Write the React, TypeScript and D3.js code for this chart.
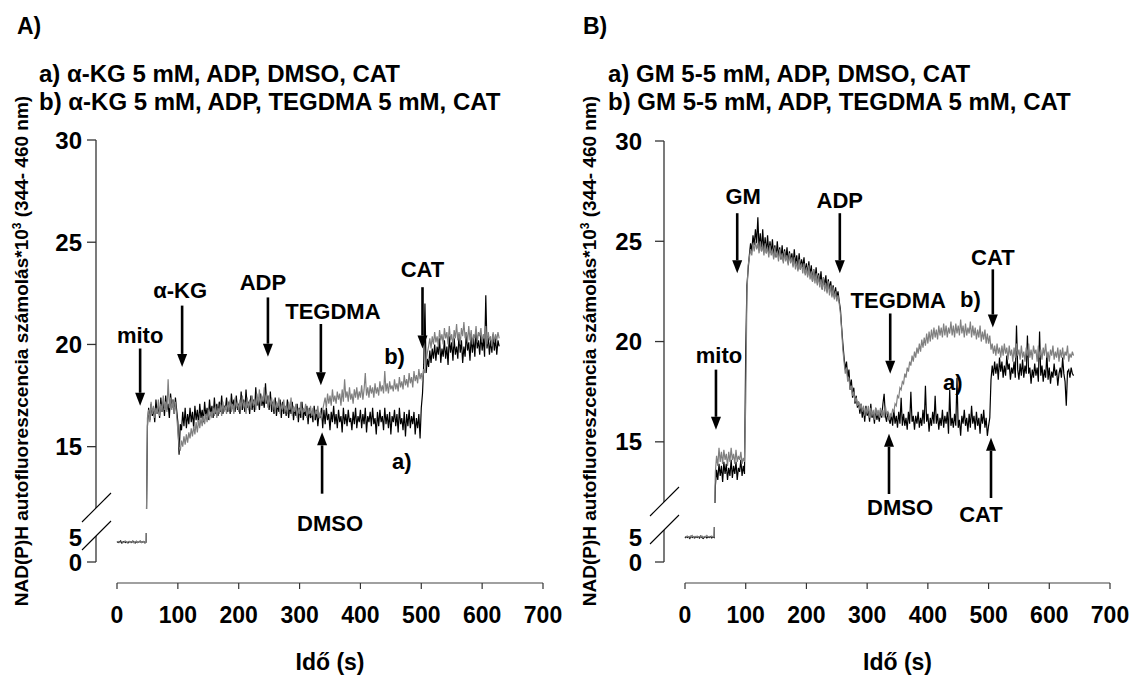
import React from 'react';
import * as d3 from 'd3';

// samples every 2 s
const STEP = 2;

// A) alpha-KG panel, trace a) (black)
const akgDmso = [
  4.1, 3.9, 4.0, 4.2, 3.8, 4.0, 4.1, 3.9, 4.0, 3.8,
  4.1, 4.0, 3.9, 4.2, 4.0, 3.8, 4.1, 3.9, 4.0, 4.2,
  3.9, 4.0, 4.1, 3.8, 4.0,
  16.0, 16.9, 16.3, 17.1, 16.5,
  16.9, 16.2, 17.3, 16.6, 17.0, 16.4, 17.4, 16.7, 17.2, 16.5,
  17.5, 16.8, 17.1, 16.4, 17.6, 16.9, 17.3, 16.6, 17.4, 16.8,
  16.2, 14.6, 16.1, 15.8, 16.7, 16.0, 16.9, 15.9, 16.6, 16.1,
  16.9, 16.2, 16.7, 15.9, 17.0, 16.3, 16.8, 16.1, 17.1, 16.4,
  16.8, 16.2, 17.2, 16.5, 16.9, 16.3, 17.3, 16.6, 17.0, 16.4,
  17.4, 16.6, 17.1, 16.5, 17.2, 16.7, 17.5, 16.6, 17.0, 16.8,
  17.4, 16.7, 17.2, 16.6, 17.6, 16.9, 17.3, 16.7, 17.5, 16.8,
  17.1, 16.6, 17.7, 16.8, 17.3, 16.7, 17.8, 16.9, 17.2, 16.6,
  17.5, 16.8, 17.3, 16.7, 17.9, 17.0, 17.4, 16.8, 17.6, 17.0,
  17.3, 16.9, 18.1, 17.1, 17.5, 16.8, 17.7, 16.7, 17.2, 16.6,
  17.4, 16.5, 17.1, 16.7, 17.3, 16.4, 17.2, 16.6, 17.0, 16.5,
  17.3, 16.4, 17.0, 16.6, 17.2, 16.3, 16.9, 16.5, 17.1, 16.2,
  16.9, 16.4, 17.2, 16.3, 16.8, 16.5, 17.0, 16.1, 16.9, 16.4,
  16.7, 16.2, 17.0, 16.3, 16.8, 16.0, 16.6, 16.4, 16.9, 15.9,
  16.8, 16.1, 16.9, 16.3, 16.6, 15.8, 16.7, 16.2, 17.0, 16.1,
  16.6, 15.9, 16.8, 16.2, 16.5, 15.7, 16.9, 16.1, 16.6, 16.0,
  16.8, 16.2, 16.4, 15.8, 16.7, 16.1, 16.9, 15.9, 16.5, 16.2,
  16.8, 15.9, 16.6, 16.1, 16.9, 15.7, 16.5, 16.2, 16.7, 16.0,
  16.9, 16.1, 16.4, 15.6, 16.7, 16.0, 16.8, 16.2, 16.5, 15.8,
  16.9, 16.1, 16.6, 15.9, 16.7, 15.6, 16.5, 16.2, 16.8, 16.0,
  16.6, 15.7, 16.9, 16.1, 16.4, 15.8, 16.7, 15.5, 16.6, 16.0,
  16.8, 15.9, 16.5, 16.1, 16.7, 15.6, 16.4, 15.9, 16.6, 15.4,
  16.9, 17.6, 19.0, 22.0, 18.6, 19.3, 18.9, 19.7, 19.1, 19.8,
  19.3, 20.0, 19.2, 19.9, 19.5, 20.3, 19.1, 19.8, 19.4, 20.2,
  19.3, 19.9, 19.0, 20.4, 19.6, 20.1, 19.2, 20.3, 19.5, 19.9,
  19.3, 20.5, 19.6, 20.2, 19.1, 19.9, 19.4, 20.6, 19.7, 20.1,
  19.2, 20.4, 19.6, 20.3, 19.4, 20.7, 19.8, 20.2, 19.5, 20.5,
  19.7, 20.3, 19.4, 22.4, 19.8, 20.4, 19.5, 20.2, 19.6, 20.5,
  19.7, 20.3, 19.5, 20.2, 19.9,
];
// A) trace b) (grey)
const akgTegdma = [
  4.0, 4.1, 3.9, 4.0, 4.1, 3.9, 4.0, 4.2, 3.9, 4.0,
  4.1, 3.9, 4.0, 4.1, 3.8, 4.0, 4.2, 3.9, 4.0, 4.1,
  3.9, 4.0, 4.1, 3.9, 4.0,
  16.4, 16.8, 16.2, 17.2, 16.6,
  17.0, 16.4, 16.9, 16.6, 17.3, 16.5, 17.1, 16.7, 17.5, 16.8,
  17.2, 16.7, 18.3, 16.9, 17.4, 16.8, 17.3, 16.6, 17.2, 16.5,
  15.8, 15.0, 14.8, 15.3, 15.0, 15.5, 15.1, 15.6, 15.2, 15.7,
  15.4, 15.9, 15.5, 16.0, 15.6, 16.2, 15.7, 16.3, 15.9, 16.4,
  16.0, 16.5, 16.1, 16.6, 16.2, 16.8, 16.3, 16.7, 16.4, 16.9,
  16.5, 17.0, 16.4, 16.9, 16.6, 17.1, 16.5, 17.2, 16.7, 17.0,
  16.6, 17.2, 16.8, 17.3, 16.7, 17.1, 16.6, 17.4, 16.9, 17.2,
  16.7, 17.3, 16.8, 17.5, 16.9, 17.2, 16.6, 17.4, 16.8, 17.3,
  16.9, 17.5, 17.0, 17.3, 16.8, 17.6, 17.1, 17.8, 17.0, 17.5,
  17.2, 17.9, 17.1, 17.6, 16.9, 17.5, 17.0, 17.4, 16.8, 17.3,
  16.7, 17.2, 16.9, 17.4, 16.6, 17.1, 16.8, 17.3, 16.7, 17.0,
  16.6, 17.2, 16.8, 17.4, 16.5, 17.0, 16.7, 17.1, 16.4, 16.9,
  16.6, 17.2, 16.5, 16.9, 16.7, 17.1, 16.4, 16.8, 16.6, 17.0,
  16.5, 16.9, 16.3, 16.8, 16.6, 17.0, 16.4, 16.7, 16.3, 16.8,
  17.1, 17.4, 16.9, 17.6, 17.1, 17.5, 17.0, 17.8, 17.2, 17.5,
  17.1, 17.7, 17.3, 17.6, 17.0, 17.8, 17.2, 18.3, 17.4, 17.7,
  17.2, 17.9, 17.3, 17.6, 17.1, 17.8, 17.4, 17.9, 17.3, 17.7,
  17.4, 18.0, 17.3, 17.8, 18.6, 17.5, 17.9, 17.4, 18.0, 17.6,
  17.9, 17.4, 18.1, 17.6, 17.9, 17.5, 18.2, 17.7, 18.0, 17.6,
  18.7, 17.7, 18.1, 17.6, 18.2, 17.8, 18.0, 17.7, 18.3, 17.8,
  18.1, 17.7, 18.4, 17.9, 18.2, 17.8, 18.5, 18.0, 18.3, 17.9,
  18.6, 18.1, 18.4, 17.9, 18.7, 18.2, 18.5, 18.1, 18.8, 18.3,
  18.6, 18.2, 18.8, 18.6, 19.2, 19.6, 19.9, 20.3, 19.8, 20.4,
  20.0, 20.6, 20.1, 20.4, 19.9, 20.7, 20.2, 20.5, 20.0, 20.8,
  20.3, 20.6, 20.0, 20.9, 20.2, 20.5, 19.9, 20.7, 20.3, 21.0,
  20.2, 20.6, 20.0, 20.8, 20.4, 21.1, 20.3, 20.6, 20.1, 20.9,
  20.2, 20.7, 20.0, 20.5, 20.3, 20.9, 20.1, 20.6, 20.4, 20.8,
  20.1, 20.5, 20.3, 20.9, 20.0, 20.6, 20.2, 20.4, 19.9, 20.6,
  20.1, 20.5, 20.2, 20.6, 20.3,
];

// B) glutamate-malate panel, trace a) (black)
const gmDmso = [
  4.8, 5.1, 4.9, 5.0, 4.7, 5.2, 4.9, 5.0, 4.8, 5.1,
  4.9, 5.0, 4.8, 5.2, 4.9, 4.7, 5.0, 5.1, 4.8, 5.0,
  4.9, 5.1, 4.8, 5.0, 4.9,
  12.8, 13.6, 13.1, 13.9, 13.3,
  13.8, 13.0, 14.0, 13.4, 13.9, 13.1, 13.7, 13.3, 14.1, 13.2,
  13.8, 13.4, 14.0, 13.1, 13.7, 13.5, 14.1, 13.3, 13.8, 13.4,
  19.5, 22.8, 23.6, 24.3, 24.9, 24.5, 25.3, 24.8, 25.6, 24.9,
  26.2, 24.6, 25.4, 24.5, 25.6, 24.5, 25.2, 24.4, 25.3, 24.4,
  25.0, 24.4, 25.1, 24.2, 24.8, 24.2, 25.0, 24.2, 24.7, 24.1,
  24.8, 24.0, 24.6, 24.1, 24.7, 23.9, 24.5, 24.0, 24.4, 23.8,
  24.6, 23.8, 24.3, 23.6, 24.4, 23.6, 24.1, 23.7, 24.2, 23.4,
  23.9, 23.3, 24.0, 23.3, 23.8, 23.0, 23.6, 23.1, 23.7, 22.9,
  23.4, 22.9, 23.5, 22.6, 23.2, 22.8, 23.3, 22.5, 23.1, 22.6,
  23.0, 22.3, 22.8, 22.2, 22.7, 22.2, 22.5, 22.0, 21.6, 20.7,
  19.9, 19.2, 18.6, 19.0, 18.2, 18.6, 17.6, 18.1, 17.2, 17.7,
  16.9, 17.3, 16.7, 17.0, 16.4, 16.9, 16.2, 16.7, 16.0, 16.8,
  16.3, 16.6, 16.0, 16.9, 16.2, 16.5, 15.9, 16.7, 16.1, 16.4,
  16.0, 16.6, 16.2, 16.9, 17.4, 16.3, 16.0, 16.5, 16.1, 15.9,
  16.4, 15.8, 16.6, 15.9, 16.3, 15.7, 16.5, 15.9, 17.2, 15.8,
  16.4, 15.8, 16.2, 15.6, 16.5, 15.9, 17.5, 16.0, 16.3, 15.6,
  16.3, 15.9, 16.5, 15.7, 16.2, 15.8, 16.6, 15.9, 17.8, 16.0,
  16.4, 15.5, 16.2, 15.8, 16.5, 15.9, 17.3, 15.9, 16.4, 15.6,
  16.2, 15.8, 16.6, 15.7, 16.3, 15.9, 16.5, 15.4, 17.6, 15.8,
  16.2, 15.7, 16.4, 15.8, 18.2, 15.7, 16.1, 15.3, 16.3, 15.9,
  16.6, 15.8, 16.2, 15.5, 16.4, 15.7, 16.8, 15.9, 16.3, 15.6,
  16.5, 15.8, 16.2, 15.4, 16.4, 15.9, 16.6, 15.7, 16.2, 15.3,
  15.8, 16.2, 18.1, 18.8, 18.3, 19.0, 18.4, 18.9, 18.1, 19.2,
  18.5, 19.0, 18.2, 18.8, 18.3, 19.3, 18.6, 18.9, 18.1, 18.7,
  18.4, 19.0, 18.2, 20.8, 18.6, 18.1, 18.9, 18.3, 19.1, 18.2,
  18.8, 18.4, 20.3, 18.4, 18.7, 17.9, 18.6, 18.2, 18.9, 18.3,
  18.7, 18.0, 20.5, 18.3, 18.8, 18.0, 18.6, 18.2, 19.4, 18.1,
  18.7, 17.9, 18.5, 18.2, 18.9, 18.3, 18.6, 17.8, 18.4, 18.7,
  18.2, 19.2, 18.4, 18.0, 16.8, 18.5, 18.6, 18.2, 18.7, 18.4,
  18.3,
];
// B) trace b) (grey)
const gmTegdma = [
  5.1, 5.0, 5.2, 4.9, 5.1, 5.0, 5.3, 4.9, 5.1, 5.0,
  5.2, 4.9, 5.1, 5.0, 5.2, 4.9, 5.1, 5.0, 5.3, 5.0,
  5.1, 4.9, 5.2, 5.0, 5.1,
  13.5, 14.3, 13.8, 14.7, 14.0,
  14.5, 13.9, 14.6, 14.1, 14.4, 13.8, 14.5, 14.0, 14.7, 14.1,
  14.4, 13.9, 14.6, 14.0, 14.3, 14.1, 14.5, 13.9, 14.2, 14.0,
  17.0, 22.4, 23.8, 24.2, 24.6, 24.3, 24.9, 24.5, 25.0, 24.6,
  24.9, 24.4, 25.0, 24.5, 24.8, 24.3, 24.9, 24.4, 24.7, 24.2,
  24.8, 24.3, 24.6, 24.1, 24.7, 24.2, 24.5, 24.0, 24.6, 24.1,
  24.4, 23.9, 24.5, 24.0, 24.3, 23.8, 24.4, 23.9, 24.2, 23.7,
  24.2, 23.6, 24.0, 23.5, 24.1, 23.6, 23.9, 23.4, 23.9, 23.3,
  23.7, 23.2, 23.8, 23.1, 23.5, 23.0, 23.6, 22.9, 23.4, 22.8,
  23.3, 22.7, 23.1, 22.6, 23.2, 22.5, 22.9, 22.4, 23.0, 22.3,
  22.8, 22.2, 22.7, 22.1, 22.5, 22.0, 22.3, 21.9, 21.4, 20.6,
  19.6, 19.0, 18.4, 18.7, 18.0, 18.2, 17.6, 17.8, 17.3, 17.5,
  17.0, 17.2, 16.8, 17.0, 16.6, 16.9, 16.5, 16.8, 16.3, 16.7,
  16.4, 16.8, 16.2, 16.7, 16.3, 16.6, 16.1, 16.7, 16.3, 16.6,
  16.2, 16.7, 16.3, 16.6, 16.2, 16.8, 16.4, 16.5, 16.1, 16.4,
  16.3, 16.6, 16.5, 16.9, 16.8, 17.3, 17.2, 17.7, 17.6, 18.0,
  17.9, 18.4, 18.2, 18.7, 18.5, 19.0, 18.8, 19.3, 19.0, 19.5,
  19.2, 19.7, 19.4, 19.9, 19.5, 20.1, 19.7, 20.2, 19.8, 20.4,
  19.9, 20.5, 20.0, 20.6, 20.1, 20.7, 20.2, 20.6, 20.1, 20.8,
  20.3, 20.7, 20.2, 20.9, 20.3, 20.8, 20.2, 20.7, 20.4, 21.0,
  20.3, 20.8, 20.2, 20.9, 20.4, 20.8, 20.3, 21.1, 20.4, 20.8,
  20.2, 20.9, 20.3, 20.7, 20.4, 21.0, 20.2, 20.8, 20.3, 20.7,
  20.1, 20.6, 20.2, 20.8, 20.0, 20.5, 20.1, 20.6, 19.9, 20.4,
  19.9, 20.3, 19.6, 19.9, 19.4, 19.8, 19.3, 19.9, 19.4, 19.7,
  19.2, 19.8, 19.3, 19.9, 19.4, 19.7, 19.1, 19.8, 19.3, 19.6,
  19.0, 19.7, 19.2, 19.9, 19.3, 19.6, 19.1, 19.8, 19.2, 19.5,
  19.0, 19.7, 19.3, 19.9, 19.2, 19.6, 19.1, 19.8, 19.4, 19.6,
  19.0, 19.8, 19.2, 19.6, 19.1, 19.7, 19.3, 19.9, 19.2, 19.5,
  19.0, 19.6, 19.3, 19.8, 19.1, 19.5, 19.2, 19.7, 19.0, 19.6,
  19.2, 19.7, 19.1, 19.5, 19.3, 19.8, 19.0, 19.4, 19.2, 19.5,
  19.3,
];

const xTicks = [0, 100, 200, 300, 400, 500, 600, 700];
const yTickVals = [0, 15, 20, 25, 30];
const yLabelVals = [0, 5, 15, 20, 25, 30];

// additions: time (s), arrow start / end value, label offsets (px)
const arrowsA = [
  { label: 'mito', t: 38, from: 19.8, to: 17.0, dx: 0, dy: -6 },
  { label: 'α-KG', t: 107, from: 21.9, to: 18.9, dx: -2, dy: -8 },
  { label: 'ADP', t: 248, from: 22.3, to: 19.4, dx: -5, dy: -7 },
  { label: 'TEGDMA', t: 335, from: 21.0, to: 18.0, dx: 12, dy: -5 },
  { label: 'CAT', t: 502, from: 22.8, to: 19.8, dx: 0, dy: -10 },
  { label: 'DMSO', t: 337, from: 12.7, to: 15.7, dx: 8, dy: 37 },
];
const arrowsB = [
  { label: 'mito', t: 51, from: 18.6, to: 15.6, dx: 3, dy: -7 },
  { label: 'GM', t: 86, from: 26.4, to: 23.4, dx: 6, dy: -9 },
  { label: 'ADP', t: 255, from: 26.4, to: 23.4, dx: 0, dy: -5 },
  { label: 'TEGDMA', t: 338, from: 21.4, to: 18.4, dx: 8, dy: -5 },
  { label: 'CAT', t: 507, from: 23.6, to: 20.7, dx: 0, dy: -4 },
  { label: 'DMSO', t: 336, from: 12.4, to: 15.4, dx: 11, dy: 21 },
  { label: 'CAT', t: 504, from: 12.2, to: 15.2, dx: -10, dy: 24 },
];
const tagsA = [
  { label: 'b)', t: 456, v: 19.06 },
  { label: 'a)', t: 468, v: 13.9 },
];
const tagsB = [
  { label: 'b)', t: 470, v: 21.7 },
  { label: 'a)', t: 441, v: 17.6 },
];

const FONT = '"Liberation Sans", Arial, Helvetica, sans-serif';
const GREY = '#808080';

const panels = [
  {
    title: 'A)', legend: ['a) α-KG 5 mM, ADP, DMSO, CAT', 'b) α-KG 5 mM, ADP, TEGDMA 5 mM, CAT'],
    black: akgDmso, grey: akgTegdma, arrows: arrowsA, tags: tagsA,
    axisX: 96, x0: 117, x1: 543, yR: [562, 537, 508, 140], lowTop: 536, tickGap: 14,
    titleX: 17, legendX: 39, yLabelX: 28,
  },
  {
    title: 'B)', legend: ['a) GM 5-5 mM, ADP, DMSO, CAT', 'b) GM 5-5 mM, ADP, TEGDMA 5 mM, CAT'],
    black: gmDmso, grey: gmTegdma, arrows: arrowsB, tags: tagsB,
    axisX: 664, x0: 685, x1: 1110, yR: [562, 537, 502, 141], lowTop: 530, tickGap: 22,
    titleX: 583, legendX: 608, yLabelX: 596,
  },
];

const Arrow = ({ x, y1, y2 }: { x: number; y1: number; y2: number }) => {
  const dir = y2 > y1 ? 1 : -1;
  const head = 13;
  return (
    <g>
      <line x1={x} x2={x} y1={y1} y2={y2 - dir * head} stroke="#000" strokeWidth={2.6} />
      <path d={`M${x - 5},${y2 - dir * head} L${x + 5},${y2 - dir * head} L${x},${y2} Z`} fill="#000" />
    </g>
  );
};

const Panel = ({ p }: { p: any }) => {
  const x = d3.scaleLinear().domain([0, 700]).range([p.x0, p.x1]);
  const y = d3.scaleLinear().domain([0, 5, 12, 30]).range(p.yR);
  const line = d3.line<number>().x((_, i) => x(i * STEP)).y((v) => y(v));
  const yBreak = y(12);
  const xAxisY = 583;

  return (
    <g fontFamily={FONT} fontWeight="bold">
      <text x={p.titleX} y={34} fontSize={23}>{p.title}</text>
      {p.legend.map((s: string, i: number) => (
        <text key={i} x={p.legendX} y={82 + i * 28} fontSize={24}>{s}</text>
      ))}

      {/* traces */}
      <path d={line(p.black) || ''} fill="none" stroke="#000" strokeWidth={1.2} />
      <path d={line(p.grey) || ''} fill="none" stroke={GREY} strokeWidth={1.2} />
      <rect x={p.axisX + 1} y={yBreak + 1} width={p.x1 - p.axisX} height={p.lowTop - yBreak - 4} fill="#fff" />

      {/* y axis with break */}
      <line x1={p.axisX} x2={p.axisX} y1={y(30)} y2={yBreak} stroke="#333" strokeWidth={1.3} />
      <line x1={p.axisX} x2={p.axisX} y1={p.lowTop} y2={y(0)} stroke="#333" strokeWidth={1.3} />
      {[yBreak, p.lowTop].map((yy: number, i: number) => (
        <line key={i} x1={p.axisX - 14} y1={yy + 14} x2={p.axisX + 15} y2={yy - 15} stroke="#000" strokeWidth={1.1} />
      ))}
      {yTickVals.map((v) => (
        <line key={v} x1={p.axisX - 9} x2={p.axisX} y1={y(v)} y2={y(v)} stroke="#333" strokeWidth={1.3} />
      ))}
      {yLabelVals.map((v) => (
        <text key={v} x={p.axisX - p.tickGap} y={y(v)} dy="0.36em" textAnchor="end" fontSize={24}>{v}</text>
      ))}
      <text transform={`translate(${p.yLabelX},351) rotate(-90)`} textAnchor="middle" fontSize={19}>
        NAD(P)H autofluoreszcencia számolás*10<tspan dy={-7} fontSize={12}>3</tspan>
        <tspan dy={7}> (344- 460 nm)</tspan>
      </text>

      {/* x axis */}
      <line x1={x(0)} x2={x(700)} y1={xAxisY} y2={xAxisY} stroke={GREY} strokeWidth={1.6} />
      {xTicks.map((t) => (
        <g key={t}>
          <line x1={x(t)} x2={x(t)} y1={xAxisY} y2={xAxisY + 6} stroke="#333" strokeWidth={1.2} />
          <text x={x(t)} y={623} textAnchor="middle" fontSize={23}>{t}</text>
        </g>
      ))}
      <text x={(x(0) + x(700)) / 2} y={670} textAnchor="middle" fontSize={23}>Idő (s)</text>

      {/* additions */}
      {p.arrows.map((a: any, i: number) => (
        <g key={i}>
          <Arrow x={x(a.t)} y1={y(a.from)} y2={y(a.to)} />
          <text x={x(a.t) + a.dx} y={y(a.from) + a.dy} textAnchor="middle" fontSize={22}>{a.label}</text>
        </g>
      ))}
      {p.tags.map((g: any, i: number) => (
        <text key={i} x={x(g.t)} y={y(g.v)} textAnchor="middle" fontSize={22}>{g.label}</text>
      ))}
    </g>
  );
};

export default function App() {
  return (
    <svg width={1136} height={675} style={{ position: 'absolute', left: 0, top: 0, background: '#fff' }}>
      <rect width={1136} height={675} fill="#fff" />
      {panels.map((p) => (
        <Panel key={p.title} p={p} />
      ))}
    </svg>
  );
}
